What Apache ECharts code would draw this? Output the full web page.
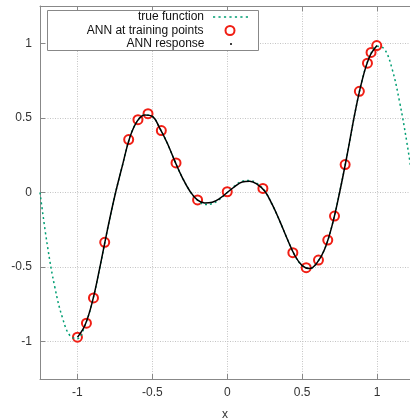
<!DOCTYPE html>
<html>
<head>
<meta charset="utf-8">
<script src="https://cdn.jsdelivr.net/npm/echarts@6/dist/echarts.min.js"></script>
<style>
html,body{margin:0;padding:0;background:#fff}
#chart{width:410px;height:419px}
</style>
</head>
<body>
<div id="chart"></div>
<script>
// true function, sampled every 0.05
const trueX = [-1.25,-1.2,-1.15,-1.1,-1.05,-1,-0.95,-0.9,-0.85,-0.8,-0.75,-0.7,-0.65,-0.6,-0.55,-0.5,-0.45,-0.4,-0.35,-0.3,-0.25,-0.2,-0.15,-0.1,-0.05,0,
  0.05,0.1,0.15,0.2,0.25,0.3,0.35,0.4,0.45,0.5,0.55,0.6,0.65,0.7,0.75,0.8,0.85,0.9,0.95,1,1.05,1.1,1.15,1.2,1.25]
const trueY = [0,-0.36,-0.64,-0.84,-0.96,-0.98,-0.89,-0.73,-0.5,-0.25,-0.02,0.18,0.37,0.48,0.52,0.51,0.43,0.33,0.21,0.1,0.01,-0.05,-0.08,-0.075,-0.045,0,
  0.045,0.075,0.08,0.06,0.01,-0.08,-0.19,-0.31,-0.42,-0.49,-0.51,-0.47,-0.38,-0.22,0,0.25,0.52,0.75,0.91,0.98,0.96,0.83,0.61,0.33,0]

// ANN response on [-1, 1]
const annX = [-1,-0.95,-0.9,-0.85,-0.8,-0.75,-0.7,-0.65,-0.6,-0.55,-0.5,-0.45,-0.4,-0.35,-0.3,-0.25,-0.2,-0.15,-0.1,-0.05,0,
  0.05,0.1,0.15,0.2,0.25,0.3,0.35,0.4,0.45,0.5,0.55,0.6,0.65,0.7,0.75,0.8,0.85,0.9,0.95,1]
const annY = [-0.97,-0.89,-0.73,-0.5,-0.25,-0.02,0.18,0.37,0.48,0.52,0.51,0.43,0.33,0.21,0.1,0.01,-0.05,-0.07,-0.065,-0.04,0,
  0.04,0.07,0.075,0.055,0.01,-0.08,-0.19,-0.31,-0.42,-0.49,-0.51,-0.47,-0.38,-0.22,0,0.25,0.52,0.75,0.91,0.985]

// training points
const trainX = [-1,-0.94,-0.893,-0.818,-0.658,-0.596,-0.529,-0.44,-0.342,-0.198,0,0.238,0.438,0.527,0.609,0.671,0.716,0.787,0.882,0.936,0.96,0.998]
const trainY = [-0.97,-0.876,-0.707,-0.334,0.355,0.488,0.528,0.415,0.198,-0.05,0.005,0.027,-0.403,-0.504,-0.453,-0.319,-0.158,0.187,0.678,0.867,0.939,0.985]

const xTicks = [-1,-0.5,0,0.5,1]
const yTicks = [-1,-0.5,0,0.5,1]

const zip = (xs, ys) => xs.map((x, i) => [x, ys[i]])

const font = 'Liberation Sans, Arial, sans-serif'
const gray = '#888'
// small dashes for the "true function" key sample
const dashIcon = 'path://M0,0h2v1.5h-2z M5,0h2v1.5h-2z M10,0h2v1.5h-2z M15,0h2v1.5h-2z M20,0h2v1.5h-2z M25,0h2v1.5h-2z M30,0h2v1.5h-2z'

const legendBase = {
  orient: 'vertical',
  align: 'right',
  padding: 0,
  itemWidth: 35,
  itemHeight: 12,
  selectedMode: false,
  textStyle: {fontFamily: font, fontSize: 12, color: '#111', lineHeight: 12, padding: [0, 4, 0, 0]}
}

const chart = echarts.init(document.getElementById('chart'))
chart.setOption({
  animation: false,
  grid: {left: 40, top: 6, bottom: 40, right: 0, containLabel: false, outerBoundsMode: 'none'},
  graphic: [{
    type: 'rect', z: 3,
    shape: {x: 47.5, y: 10.5, width: 211, height: 40},
    style: {fill: '#fff', stroke: gray, lineWidth: 1}
  }],
  legend: [
    {...legendBase, top: 11, right: 162, data: [{name: 'true function', icon: dashIcon}]},
    {...legendBase, top: 24.5, right: 174.5, itemHeight: 9, data: ['ANN at training points']},
    {...legendBase, top: 38, right: 178, itemHeight: 2, data: [{name: 'ANN response', icon: 'circle'}]}
  ],
  xAxis: [{
    type: 'value', min: -1.25, max: 1.22,
    name: 'x', nameLocation: 'middle', nameGap: 30,
    nameTextStyle: {fontFamily: font, fontSize: 12, color: '#333'},
    axisLine: {show: true, onZero: false, lineStyle: {color: gray}},
    axisTick: {inside: true, length: 5, customValues: xTicks, lineStyle: {color: gray}},
    axisLabel: {customValues: xTicks, fontFamily: font, fontSize: 12, color: '#333', margin: 8},
    splitLine: {show: true, lineStyle: {type: [1, 1.5], color: '#c4c4c4'}}
  }, {
    type: 'value', position: 'top', min: -1.25, max: 1.22,
    axisLine: {show: true, onZero: false, lineStyle: {color: gray}},
    axisTick: {inside: true, length: 5, customValues: xTicks, lineStyle: {color: gray}},
    axisLabel: {show: false},
    splitLine: {show: false}
  }],
  yAxis: {
    type: 'value', min: -1.25, max: 1.25,
    axisLine: {show: true, onZero: false, lineStyle: {color: gray}},
    axisTick: {show: true, inside: true, length: 5, customValues: yTicks, lineStyle: {color: gray}},
    axisLabel: {customValues: yTicks, fontFamily: font, fontSize: 12, color: '#333', margin: 8},
    splitLine: {show: true, lineStyle: {type: [1, 1.5], color: '#c4c4c4'}}
  },
  series: [{
    name: 'true function',
    type: 'line',
    data: zip(trueX, trueY),
    symbol: 'none',
    smooth: 0.4,
    color: '#009e73',
    lineStyle: {color: '#009e73', width: 1.5, type: [2, 3]}
  }, {
    name: 'ANN at training points',
    type: 'scatter',
    data: zip(trainX, trainY),
    symbol: 'emptyCircle',
    symbolSize: 9,
    color: '#f01e14',
    itemStyle: {color: '#f01e14', borderColor: '#f01e14', borderWidth: 1.4, opacity: 1}
  }, {
    name: 'ANN response',
    type: 'line',
    data: zip(annX, annY),
    symbol: 'none',
    smooth: 0.4,
    color: '#000',
    lineStyle: {color: '#000', width: 1.5}
  }]
})
</script>
</body>
</html>
